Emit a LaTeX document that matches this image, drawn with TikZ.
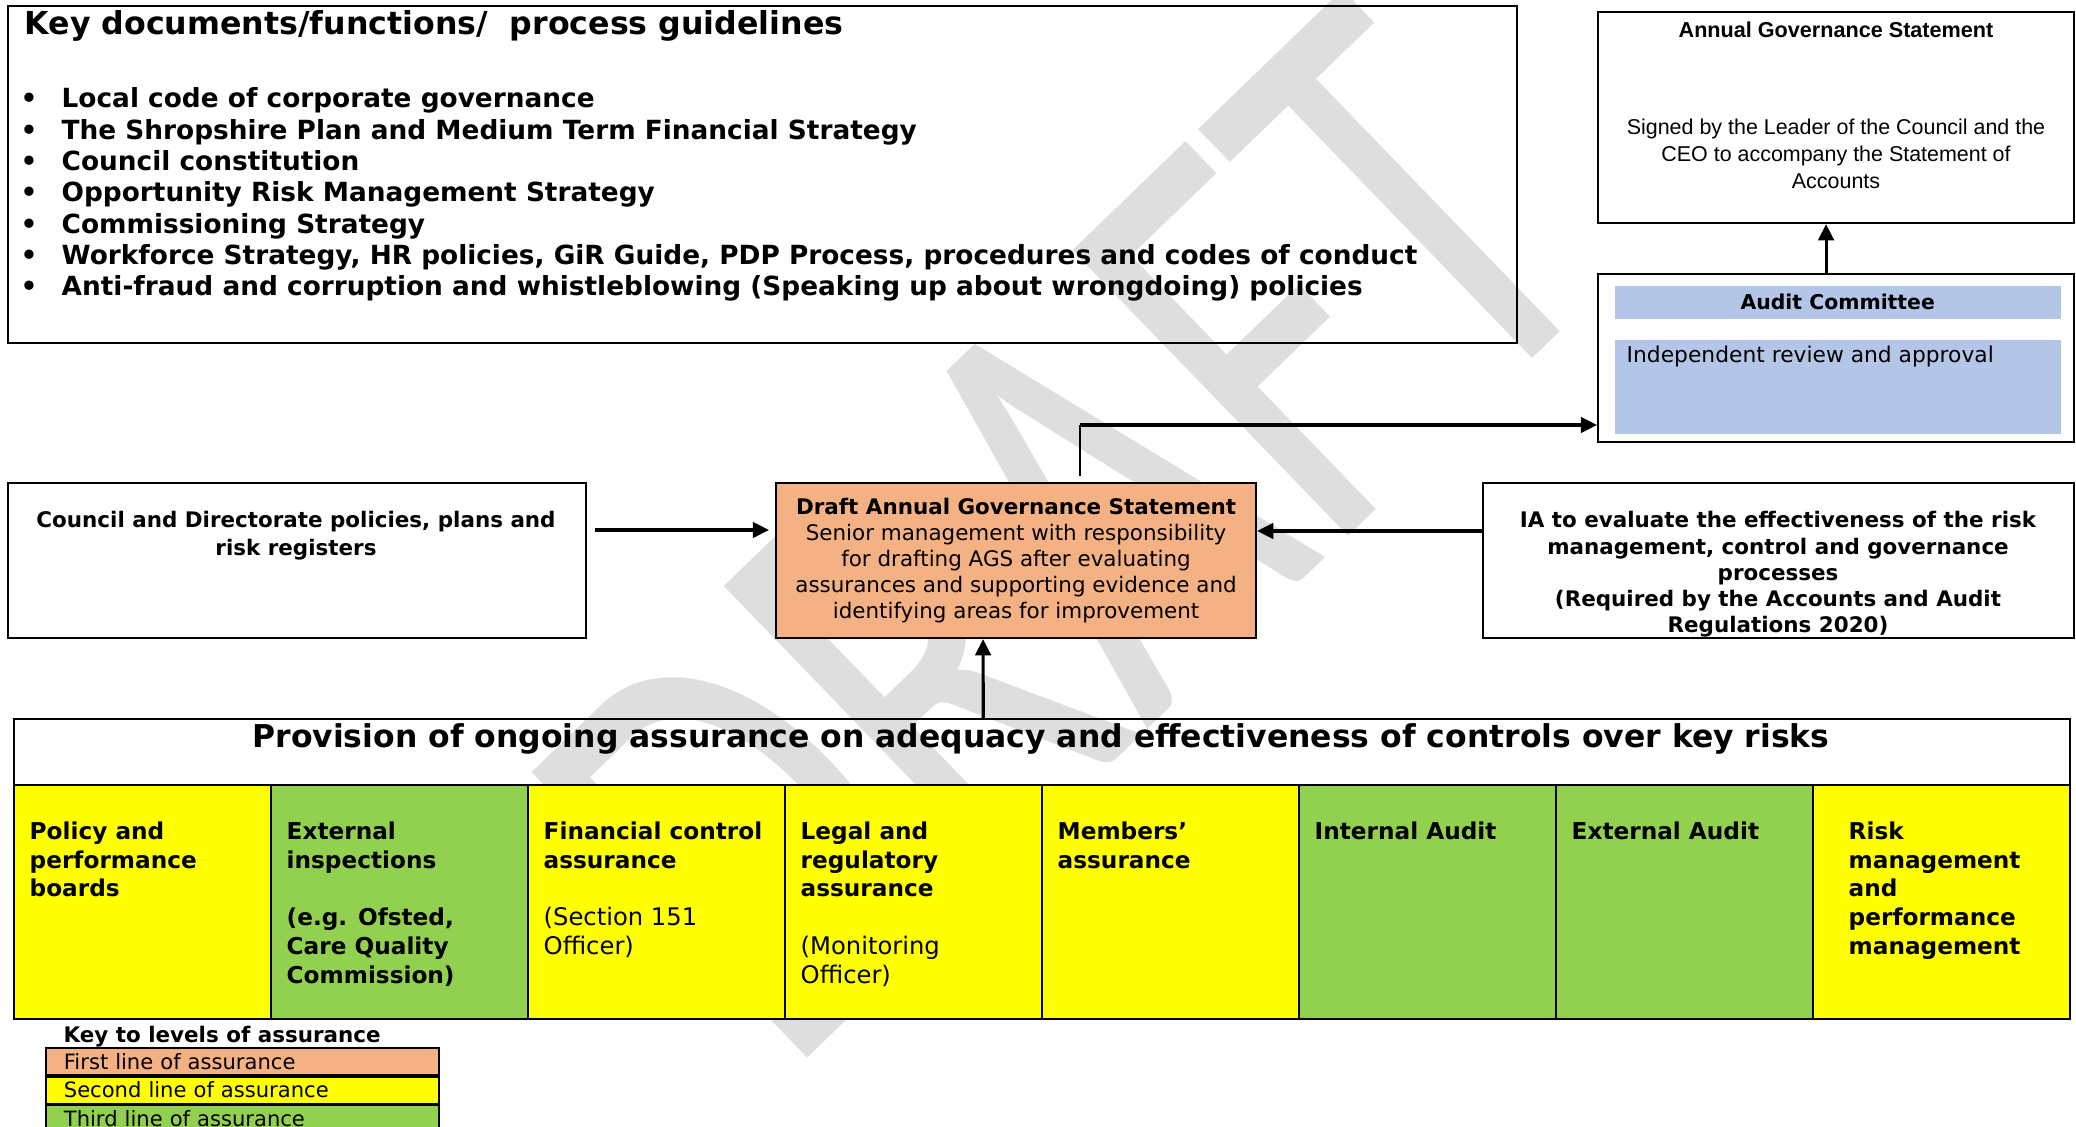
\documentclass[tikz,border=0pt]{standalone}
\usepackage{fontspec}
\usepackage{graphicx}
\setmainfont{DejaVu Sans}
\newfontfamily\arialfont{Liberation Sans}
\newfontfamily\wmfont{Carlito}
\usetikzlibrary{arrows.meta}

\definecolor{firstline}{HTML}{F4B183}
\definecolor{secondline}{HTML}{FFFF00}
\definecolor{thirdline}{HTML}{92D050}
\definecolor{committeeblue}{HTML}{B4C6E7}
\definecolor{watermark}{HTML}{DEDEDE}

\tikzset{
  box/.style={draw=black, line width=0.6pt, anchor=north west, inner sep=0pt},
  cell/.style={draw=black, line width=0.5pt, anchor=north west, minimum width=2.57cm, minimum height=2.34cm, inner sep=0pt},
  celltext/.style={anchor=north west, inner sep=0pt, align=left, font=\fontsize{6.6}{8.2}\selectfont\bfseries},
  bullet/.style={anchor=base west, inner sep=0pt, font=\fontsize{7.5}{9}\selectfont\bfseries},
  flow/.style={line width=0.9pt, -{Triangle[length=4.6pt,width=4.4pt]}},
  keyrow/.style={draw=black, line width=0.5pt, anchor=north west, minimum width=3.93cm, minimum height=0.27cm, inner ysep=0pt, inner xsep=0.18cm, text width=3.57cm, align=left, font=\fontsize{6}{7}\selectfont}
}

\begin{document}
\begin{tikzpicture}
  \useasboundingbox (0,0) rectangle (20.76,-11.27);

  % watermark behind everything
  \node[rotate=44, text=watermark, inner sep=0pt, anchor=base] (wm) at (12.04,-6.75) {\scalebox{0.7}[1]{\wmfont\fontsize{176}{176}\selectfont DRAFT}};

  % key documents box
  \node[box, minimum width=15.09cm, minimum height=3.37cm] (docs) at (0.07,-0.05) {};
  \node[anchor=base west, inner sep=0pt, font=\fontsize{9}{11}\selectfont\bfseries] (docstitle) at (0.24,-0.35) {Key documents/functions/\ \ process guidelines};
  \node[bullet] (b1) at (0.20,-1.08) {\makebox[0.41cm][l]{\textbullet}Local code of corporate governance};
  \node[bullet] (b2) at (0.20,-1.393) {\makebox[0.41cm][l]{\textbullet}The Shropshire Plan and Medium Term Financial Strategy};
  \node[bullet] (b3) at (0.20,-1.707) {\makebox[0.41cm][l]{\textbullet}Council constitution};
  \node[bullet] (b4) at (0.20,-2.02) {\makebox[0.41cm][l]{\textbullet}Opportunity Risk Management Strategy};
  \node[bullet] (b5) at (0.20,-2.333) {\makebox[0.41cm][l]{\textbullet}Commissioning Strategy};
  \node[bullet] (b6) at (0.20,-2.647) {\makebox[0.41cm][l]{\textbullet}Workforce Strategy, HR policies, GiR Guide, PDP Process, procedures and codes of conduct};
  \node[bullet] (b7) at (0.20,-2.96) {\makebox[0.41cm][l]{\textbullet}Anti-fraud and corruption and whistleblowing (Speaking up about wrongdoing) policies};

  % annual governance statement
  \node[box, minimum width=4.76cm, minimum height=2.11cm] (ags) at (15.97,-0.11) {};
  \node[anchor=base, inner sep=0pt, font=\arialfont\bfseries\fontsize{6.15}{7.7}\selectfont] (agstitle) at (18.36,-0.38) {Annual Governance Statement};
  \node[anchor=north, inner sep=0pt, align=center, font=\arialfont\fontsize{6.1}{7.7}\selectfont] (agstext) at (18.36,-1.185) {Signed by the Leader of the Council and the\\CEO to accompany the Statement of\\Accounts};

  % audit committee
  \node[box, minimum width=4.76cm, minimum height=1.68cm] (ac) at (15.97,-2.73) {};
  \node[anchor=north west, fill=committeeblue, minimum width=4.46cm, minimum height=0.33cm, inner sep=0pt, font=\fontsize{5.8}{7}\selectfont\bfseries] (achead) at (16.14,-2.85) {Audit Committee};
  \node[anchor=north west, fill=committeeblue, minimum width=4.46cm, minimum height=0.94cm, inner sep=0pt] (acbody) at (16.14,-3.39) {};
  \node[anchor=base west, inner sep=0pt, font=\fontsize{6.2}{7.5}\selectfont] (acnote) at (16.26,-3.63) {Independent review and approval};

  % middle row
  \node[box, minimum width=5.78cm, minimum height=1.55cm] (council) at (0.07,-4.82) {};
  \node[anchor=north, inner sep=0pt, align=center, font=\fontsize{6.1}{7.7}\selectfont\bfseries] (counciltext) at (2.96,-5.11) {Council and Directorate policies, plans and\\risk registers};

  \node[box, fill=firstline, minimum width=4.8cm, minimum height=1.55cm, align=center, font=\fontsize{6.1}{7.45}\selectfont] (draft) at (7.75,-4.82) {\textbf{Draft Annual Governance Statement}\\Senior management with responsibility\\for drafting AGS after evaluating\\assurances and supporting evidence and\\identifying areas for improvement};

  \node[box, minimum width=5.91cm, minimum height=1.55cm] (ia) at (14.82,-4.82) {};
  \node[anchor=north, inner sep=0pt, align=center, font=\fontsize{6.1}{7.45}\selectfont\bfseries] (iatext) at (17.78,-5.11) {IA to evaluate the effectiveness of the risk\\management, control and governance\\processes\\(Required by the Accounts and Audit\\Regulations 2020)};

  % assurance table
  \foreach \c [count=\i from 0] in {secondline,thirdline,secondline,secondline,secondline,thirdline,thirdline,secondline}
    \node[cell, fill=\c] (cell\i) at ({0.13+2.57*\i},-7.84) {};
  \node[box, line width=0.7pt, minimum width=20.56cm, minimum height=3cm] (prov) at (0.13,-7.18) {};
  \node[anchor=base, inner sep=0pt, font=\fontsize{8.95}{10}\selectfont\bfseries] (provtitle) at (10.41,-7.48) {Provision of ongoing assurance on adequacy and effectiveness of controls over key risks};

  \node[celltext] (t0) at ([xshift=0.16cm,yshift=-0.37cm]cell0.north west) {Policy and\\performance\\boards};
  \node[celltext] (t1) at ([xshift=0.16cm,yshift=-0.37cm]cell1.north west) {External\\inspections\\[8.2pt](e.g. Ofsted,\\Care Quality\\Commission)};
  \node[celltext] (t2) at ([xshift=0.16cm,yshift=-0.37cm]cell2.north west) {Financial control\\assurance\\[8.2pt]{\fontsize{6.9}{8.2}\selectfont\mdseries (Section 151}\\{\fontsize{6.9}{8.2}\selectfont\mdseries Officer)}};
  \node[celltext] (t3) at ([xshift=0.16cm,yshift=-0.37cm]cell3.north west) {Legal and\\regulatory\\assurance\\[8.2pt]{\fontsize{6.9}{8.2}\selectfont\mdseries (Monitoring}\\{\fontsize{6.9}{8.2}\selectfont\mdseries Officer)}};
  \node[celltext] (t4) at ([xshift=0.16cm,yshift=-0.37cm]cell4.north west) {Members’\\assurance};
  \node[celltext] (t5) at ([xshift=0.16cm,yshift=-0.37cm]cell5.north west) {Internal Audit};
  \node[celltext] (t6) at ([xshift=0.16cm,yshift=-0.37cm]cell6.north west) {External Audit};
  \node[celltext] (t7) at ([xshift=0.36cm,yshift=-0.37cm]cell7.north west) {Risk\\management\\and\\performance\\management};

  % key to levels
  \node[anchor=base west, inner sep=0pt, font=\fontsize{6.1}{7}\selectfont\bfseries] (keytitle) at (0.63,-10.42) {Key to levels of assurance};
  \node[keyrow, fill=firstline] (key1) at (0.45,-10.47) {First line of assurance};
  \node[keyrow, fill=secondline, anchor=north] (key2) at (key1.south) {Second line of assurance};
  \node[keyrow, fill=thirdline, anchor=north] (key3) at (key2.south) {Third line of assurance};

  % arrows
  \draw[flow] ([shift={(0.08,-0.48)}]council.north east) -- ([shift={(-0.06,-0.48)}]draft.north west);
  \draw[flow] ([yshift=-0.49cm]ia.north west) -- ([yshift=-0.49cm]draft.north east);
  \coordinate (bend) at ([xshift=0.64cm,yshift=0.57cm]draft.north);
  \draw[line width=0.55pt] ([shift={(0.64,0.06)}]draft.north) -- (bend);
  \draw[flow] (bend) -- (bend -| ac.west);
  \draw[flow] ([xshift=-0.59cm]prov.north) -- ([xshift=-0.33cm]draft.south);
  \draw[flow] ([xshift=-0.1cm]ac.north) -- ([xshift=-0.1cm]ags.south);
\end{tikzpicture}
\end{document}
